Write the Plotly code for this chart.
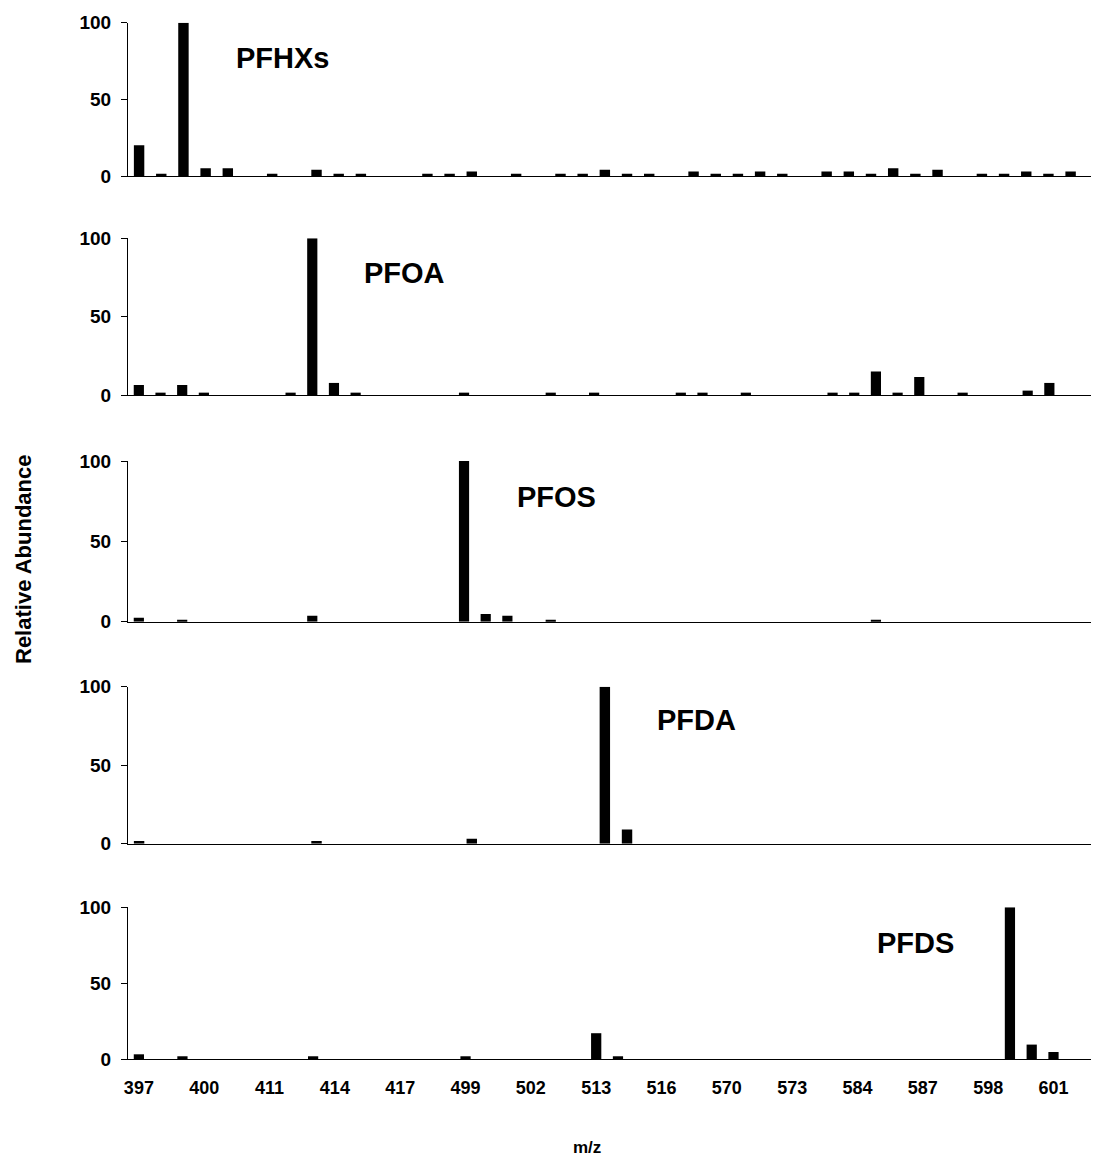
import plotly.graph_objects as go

# ---------------- data ----------------
mz = ["397", "398", "399", "400", "401", "402", "411", "412", "413", "414", "415", "416",
      "417", "418", "419", "499", "500", "501", "502", "503", "504", "513", "514", "515",
      "516", "517", "518", "570", "571", "572", "573", "574", "575", "584", "585", "586",
      "587", "588", "589", "598", "599", "600", "601"]
tick_labels = ["397", "400", "411", "414", "417", "499", "502", "513", "516", "570",
               "573", "584", "587", "598", "601"]

N = None
pfhxs = [20, 1.5, 100, 5, 5, N, 1.5, N, 4, 1.5, 1.5, N, N, 1.5, 1.5, 3, N, 1.5, N, 1.5,
         1.5, 4, 1.5, 1.5, N, 3, 1.5, 1.5, 3, 1.5, N, 3, 3, 1.5, 5, 1.5, 4, N, 1.5, 1.5,
         3, 1.5, 3]
pfoa = [6.4, 1.5, 6.4, 1.5, N, N, N, 1.5, 100, 7.7, 1.5, N, N, N, N, 1.5, N, N, N, 1.5,
        N, 1.5, N, N, N, 1.5, 1.5, N, 1.5, N, N, N, 1.5, 1.5, 15, 1.5, 11.5, N, 1.5, N,
        N, 2.8, 7.7]
pfos = [2.5, N, 1.2, N, N, N, N, N, 3.7, N, N, N, N, N, N, 100, 4.8, 3.7, N, 1.2,
        N, N, N, N, N, N, N, N, N, N, N, N, N, N, 1.2, N, N, N, N, N,
        N, N, N]
pfda = [1.7, N, N, N, N, N, N, N, 1.7, N, N, N, N, N, N, 3.2, N, N, N, N,
        N, 100, 9.1, N, N, N, N, N, N, N, N, N, N, N, N, N, N, N, N, N,
        N, N, N]
pfds = [3.1, N, 1.8, N, N, N, N, N, 1.8, N, N, N, N, N, N, 1.8, N, N, N, N,
        N, 17, 1.8, N, N, N, N, N, N, N, N, N, N, N, N, N, N, N, N, N,
        100, 9.5, 4.6]

names = ["PFHXs", "PFOA", "PFOS", "PFDA", "PFDS"]
series = [pfhxs, pfoa, pfos, pfda, pfds]

# ---------------- layout geometry ----------------
OFF = 8                      # page body margin
W, H = 1099 - OFF, 1161 - OFF
L = 128 - OFF
PW = W - L

def px_x(px):
    return (px - OFF - L) / PW

def px_y(py):
    return 1 - (py - OFF) / H

# screenshot-pixel top / bottom of each panel's plot area
panel_px = [(22.7, 176), (238.3, 395), (461, 621.7), (686.7, 843.7), (907.3, 1059)]
x_end = [43.28, 44.29, 44.29, 43.28, 44.09]
label_pos = [(282.5, 58), (404, 272.5), (556.5, 496.5), (696.5, 720), (915.5, 942.5)]

FONT = "Liberation Sans, Arial, sans-serif"

fig = go.Figure()
for i, (nm, vals) in enumerate(zip(names, series)):
    k = i + 1
    fig.add_trace(go.Bar(
        x=mz, y=vals, name=nm,
        marker=dict(color="black", line=dict(width=0)),
        xaxis=f"x{k}" if k > 1 else "x",
        yaxis=f"y{k}" if k > 1 else "y",
        showlegend=False,
    ))
    top, bot = panel_px[i]
    last = (k == 5)
    fig.layout[f"xaxis{k}" if k > 1 else "xaxis"] = dict(
        domain=[0, 1], anchor=f"y{k}" if k > 1 else "y",
        type="category", categoryorder="array", categoryarray=mz,
        range=[-0.5, x_end[i]],
        showline=True, linecolor="black", linewidth=1.2,
        ticks="", showgrid=False, zeroline=False,
        showticklabels=last,
        tickmode="array", tickvals=tick_labels, ticktext=tick_labels,
        tickangle=0,
        tickfont=dict(family=FONT, size=18, color="black", weight="bold"),
        ticklabelstandoff=12,
    )
    fig.layout[f"yaxis{k}" if k > 1 else "yaxis"] = dict(
        domain=[px_y(bot), px_y(top)], anchor=f"x{k}" if k > 1 else "x",
        range=[0, 100], tickvals=[0, 50, 100],
        showline=True, linecolor="black", linewidth=1.2,
        ticks="outside", ticklen=6, tickcolor="black", tickwidth=1,
        showgrid=False, zeroline=False,
        tickfont=dict(family=FONT, size=19, color="black", weight="bold"),
        ticklabelstandoff=6,
    )
    lx, ly = label_pos[i]
    fig.add_annotation(
        x=px_x(lx), y=px_y(ly), xref="paper", yref="paper",
        text=nm, showarrow=False, xanchor="center", yanchor="middle",
        font=dict(family=FONT, size=29, color="black", weight="bold"),
    )

fig.add_annotation(
    x=px_x(23), y=px_y(560), xref="paper", yref="paper",
    text="Relative Abundance", showarrow=False, textangle=-90,
    xanchor="center", yanchor="middle",
    font=dict(family=FONT, size=22, color="black", weight="bold"),
)
fig.add_annotation(
    x=px_x(587), y=px_y(1147), xref="paper", yref="paper",
    text="m/z", showarrow=False, xanchor="center", yanchor="middle",
    font=dict(family=FONT, size=17, color="black", weight="bold"),
)

fig.update_layout(
    width=W, height=H,
    margin=dict(l=L, r=0, t=0, b=0, autoexpand=False),
    paper_bgcolor="white", plot_bgcolor="white",
    bargap=0.53,
)

fig.write_html("out.html")
